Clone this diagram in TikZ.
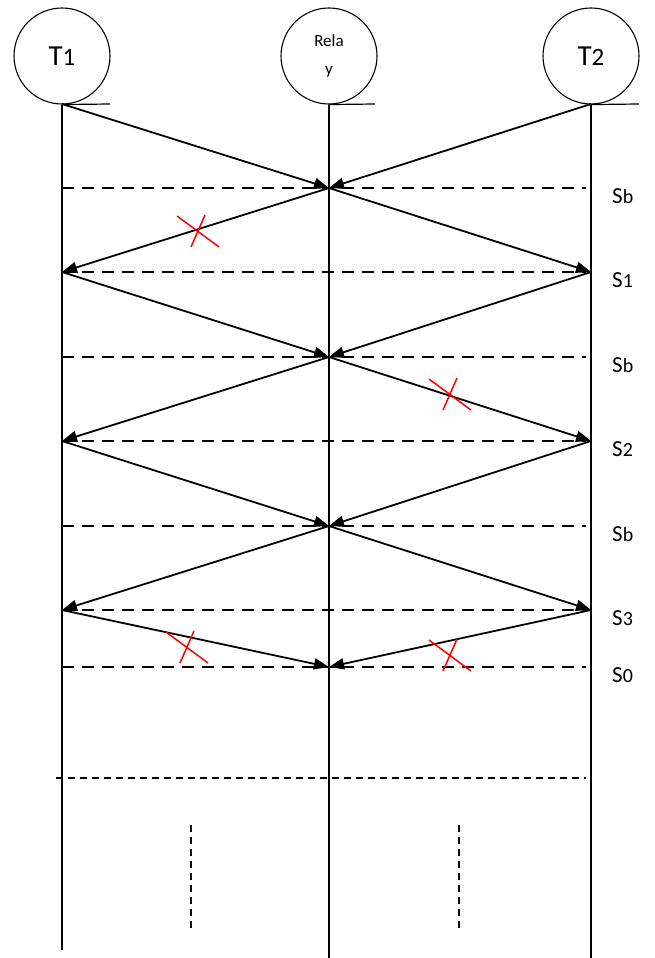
\documentclass[tikz,border=0pt]{standalone}
\usepackage{fontspec}
\setmainfont{Carlito}
\usetikzlibrary{arrows.meta}
\newcommand\subsz{\fontsize{20}{20}\selectfont}
\begin{document}
\begin{tikzpicture}[x=1pt,y=-1pt,
  party/.style={circle,draw,line width=1.1pt,minimum size=96pt,inner sep=0pt},
  life/.style={line width=1.3pt},
  msg/.style={line width=1.8pt,-{Triangle[length=15pt,width=11pt]}},
  slot/.style={line width=2.6pt,dash pattern=on 12pt off 8pt},
  thin dash/.style={line width=1.2pt,dash pattern=on 7pt off 5pt},
  slabel/.style={anchor=west,font=\fontsize{23}{23}\selectfont,inner sep=0pt},
  crossmark/.pic={\draw[red,line width=1.5pt] (-21,-16) -- (21,15) (7,-17) -- (-7,15);}
]
\useasboundingbox (0,0) rectangle (654,958);
% parties
\node[party] (T1) at (62,56) {\fontsize{29}{29}\selectfont T{\fontsize{25}{25}\selectfont 1}};
\node[party,align=center,font=\fontsize{17}{28}\selectfont] (R) at (329,56) {Rela\\y};
\node[party] (T2) at (591,56) {\fontsize{29}{29}\selectfont T{\fontsize{25}{25}\selectfont 2}};
% tangent ticks
\coordinate (t1e) at (110,104);
\coordinate (re) at (375,104);
\coordinate (t2e) at (639,104);
\draw[line width=1.2pt] (T1.south) -- (t1e);
\draw[line width=1.2pt] (R.south) -- (re);
\draw[line width=1.2pt] (T2.south) -- (t2e);
% lifelines
\coordinate (lb) at (62,950);
\coordinate (cb) at (329,958);
\coordinate (rb) at (591,958);
\draw[life] (T1.south) -- (lb);
\draw[life] (R.south) -- (cb);
\draw[life] (T2.south) -- (rb);
% event points
\coordinate (l0) at (62,104);
\coordinate (r0) at (591,104);
\coordinate (c1) at (329,188);
\coordinate (l1) at (62,272);
\coordinate (r1) at (591,272);
\coordinate (c2) at (329,357);
\coordinate (l2) at (62,441);
\coordinate (r2) at (591,441);
\coordinate (c3) at (329,526);
\coordinate (l3) at (62,610);
\coordinate (r3) at (591,610);
\coordinate (c4) at (329,667);
% slot lines
\foreach \y/\lab in {188/{S{\subsz b}},272/{S{\subsz 1}},357/{S{\subsz b}},441/{S{\subsz 2}},526/{S{\subsz b}},610/{S{\subsz 3}},667/{S{\subsz 0}}}{
  \coordinate (sa\y) at (62,\y);
  \coordinate (sb\y) at (586,\y);
  \draw[slot] (sa\y) -- (sb\y);
  \node[slabel] (lab\y) at (612,\y+8) {\lab};
}
% messages
\draw[msg] (l0) -- (c1);
\draw[msg] (r0) -- (c1);
\draw[msg] (c1) -- (l1);
\draw[msg] (c1) -- (r1);
\draw[msg] (l1) -- (c2);
\draw[msg] (r1) -- (c2);
\draw[msg] (c2) -- (l2);
\draw[msg] (c2) -- (r2);
\draw[msg] (l2) -- (c3);
\draw[msg] (r2) -- (c3);
\draw[msg] (c3) -- (l3);
\draw[msg] (c3) -- (r3);
\draw[msg] (l3) -- (c4);
\draw[msg] (r3) -- (c4);
% failed transmissions
\pic at (198,232) {crossmark};
\pic at (450,395) {crossmark};
\pic at (187,648) {crossmark};
\pic at (450,656) {crossmark};
% continuation
\coordinate (da) at (56,778);
\coordinate (db) at (586,778);
\draw[thin dash] (da) -- (db);
\coordinate (v1a) at (191,825);
\coordinate (v1b) at (191,928);
\coordinate (v2a) at (459,825);
\coordinate (v2b) at (459,928);
\draw[thin dash] (v1a) -- (v1b);
\draw[thin dash] (v2a) -- (v2b);
\end{tikzpicture}
\end{document}
